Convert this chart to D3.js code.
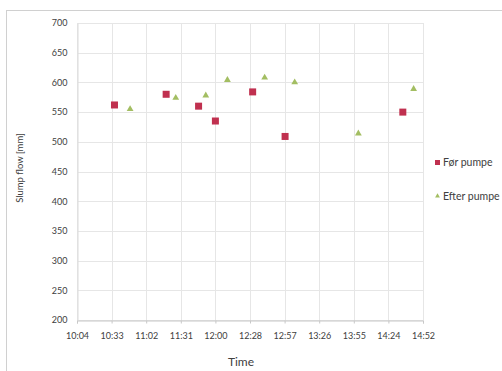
<!DOCTYPE html>
<html><head><meta charset="utf-8">
<script src="https://cdn.jsdelivr.net/npm/d3@7"></script>
<style>body{margin:0;background:#fff}svg{display:block}text{font-family:Lato,"Open Sans",sans-serif}</style>
</head><body><svg id="c" width="502" height="371"></svg>
<script>
const xTicks = [0.42,0.44,0.46,0.48,0.50,0.52,0.54,0.56,0.58,0.60,0.62];
const xTickLabels = ["10:04","10:33","11:02","11:31","12:00","12:28","12:57","13:26","13:55","14:24","14:52"];
const yTicks = [200,250,300,350,400,450,500,550,600,650,700];
const seriesNames = ["Før pumpe","Efter pumpe"];
const forTimes = ["10:36","11:19","11:46","12:00","12:31","12:58","14:36"];
const forValues = [562,580,560,535,584,509,550];
const efterTimes = ["10:49","11:27","11:52","12:10","12:41","13:06","13:59","14:45"];
const efterValues = [555,574,578,604,608,600,514,589];

const toDay = s => { const [h,m]=s.split(":").map(Number); return (h*60+m)/1440; };
const svg = d3.select("#c");
// frame
svg.append("rect").attr("x",6.5).attr("y",10.5).attr("width",520).attr("height",380)
  .attr("fill","#fff").attr("stroke","#d0d0d0");
const x = d3.scaleLinear().domain([0.42,0.62]).range([77,423]);
const y = d3.scaleLinear().domain([200,700]).range([320,23]);
const g = svg.append("g");
// grid
g.selectAll(".hg").data(yTicks).join("line").attr("x1",77).attr("x2",423)
  .attr("y1",d=>Math.round(y(d))+0.5).attr("y2",d=>Math.round(y(d))+0.5).attr("stroke","#e6e6e6");
g.selectAll(".vg").data(xTicks).join("line").attr("y1",23).attr("y2",320)
  .attr("x1",d=>Math.round(x(d))+0.5).attr("x2",d=>Math.round(x(d))+0.5).attr("stroke","#e6e6e6");
// axes
const xa = svg.append("g").attr("transform","translate(0,320.5)")
  .call(d3.axisBottom(x).tickValues(xTicks).tickFormat((d,i)=>xTickLabels[i]).tickSize(3).tickPadding(9));
xa.select(".domain").attr("stroke","#c8c8c8");
xa.selectAll(".tick line").attr("stroke","#c8c8c8");
xa.selectAll("text").attr("font-size",9).attr("fill","#404040");
const ya = svg.append("g").attr("transform","translate(77.5,0)")
  .call(d3.axisLeft(y).tickValues(yTicks).tickSize(0).tickPadding(10));
ya.select(".domain").attr("stroke","#dcdcdc");
ya.selectAll("text").attr("font-size",9).attr("fill","#404040");
// titles
svg.append("text").attr("x",241).attr("y",366).attr("text-anchor","middle")
  .attr("font-size",12).attr("fill","#404040").text("Time");
svg.append("text").attr("transform","translate(23,168) rotate(-90)").attr("text-anchor","middle")
  .attr("font-size",9.5).attr("fill","#404040").text("Slump flow [mm]");
// points
const red="#c0304f", green="#a3be62";
const forData = forTimes.map((t,i)=>({x:toDay(t),y:forValues[i]}));
const efterData = efterTimes.map((t,i)=>({x:toDay(t),y:efterValues[i]}));
svg.selectAll(".sq").data(forData).join("rect").attr("width",7).attr("height",7)
  .attr("x",d=>x(d.x)-3.5).attr("y",d=>y(d.y)-3.5).attr("fill",red);
const tri = d3.symbol().type(d3.symbolTriangle).size(20);
svg.selectAll(".tr").data(efterData).join("path").attr("d",tri)
  .attr("transform",d=>`translate(${x(d.x)},${y(d.y)})`).attr("fill",green);
// legend
const lg = svg.append("g");
lg.append("rect").attr("x",435).attr("y",160).attr("width",5).attr("height",5).attr("fill",red);
lg.append("text").attr("x",443).attr("y",166).attr("font-size",10.5).attr("fill","#404040").text(seriesNames[0]);
lg.append("path").attr("d",d3.symbol().type(d3.symbolTriangle).size(10)).attr("transform","translate(437.5,196)").attr("fill",green);
lg.append("text").attr("x",443).attr("y",199.5).attr("font-size",10.5).attr("fill","#404040").text(seriesNames[1]);
</script></body></html>
